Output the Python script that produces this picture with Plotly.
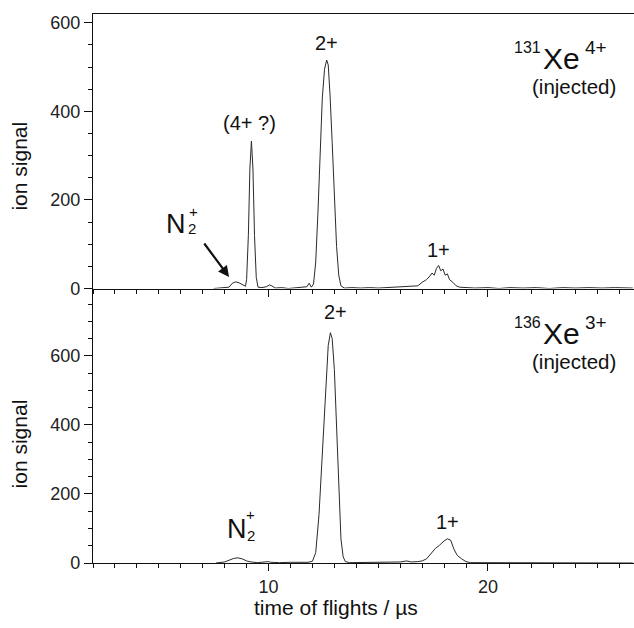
import plotly.graph_objects as go

# Time-of-flight spectra (time in microseconds, ion signal in counts)
top_tof = [7.5, 8.0, 8.2, 8.35, 8.5, 8.65, 8.8, 8.95, 9.0, 9.08, 9.15, 9.22, 9.29, 9.36,
           9.44, 9.52, 9.7, 9.9, 10.05, 10.15, 10.3, 10.6, 10.9, 11.2, 11.5, 11.75, 11.85,
           11.95, 12.05, 12.15, 12.25, 12.35, 12.45, 12.55, 12.65, 12.72, 12.8, 12.9, 13.0,
           13.1, 13.2, 13.3, 13.45, 13.8, 14.2, 14.6, 15.0, 15.4, 15.8, 16.2, 16.5, 16.8,
           17.0, 17.2, 17.35, 17.45, 17.55, 17.65, 17.75, 17.85, 17.95, 18.05, 18.15, 18.25,
           18.4, 18.55, 18.7, 19.0, 19.4, 20.0, 20.5, 21.0, 21.6, 22.2, 22.8, 23.4, 24.0,
           24.6, 25.2, 25.8, 26.6]
top_signal = [0, 1, 3, 12, 15, 13, 8, 5, 20, 120, 270, 333, 270, 120,
              25, 3, 2, 4, 8, 6, 1, 2, 0, 2, 3, 4, 12,
              3, 10, 60, 170, 310, 430, 495, 516, 505, 440, 330, 200,
              95, 30, 6, 1, 2, 1, 2, 1, 2, 3, 3, 4, 6,
              14, 20, 28, 35, 30, 45, 52, 40, 44, 30, 33, 20,
              14, 6, 3, 2, 1, 2, 0, 2, 1, 2, 0, 2, 1,
              2, 1, 2, 1]

bottom_tof = [7.6, 8.0, 8.2, 8.4, 8.6, 8.8, 9.0, 9.2, 9.5, 9.9, 10.0, 10.1, 10.5, 11.0,
              11.5, 11.8, 12.0, 12.15, 12.3, 12.45, 12.6, 12.72, 12.82, 12.9, 13.0, 13.1,
              13.2, 13.3, 13.4, 13.5, 13.7, 14.5, 15.5, 16.0, 16.3, 16.5, 16.8, 17.0, 17.2,
              17.4, 17.6, 17.8, 18.0, 18.15, 18.3, 18.45, 18.6, 18.8, 19.0, 19.2, 20.0,
              22.0, 24.0, 26.6]
bottom_signal = [0, 3, 8, 13, 15, 12, 6, 3, 1, 2, 4, 2, 1, 2,
                 1, 2, 5, 30, 140, 330, 520, 630, 667, 650, 560, 390,
                 200, 70, 18, 4, 1, 1, 2, 3, 6, 3, 4, 6, 12,
                 28, 42, 52, 64, 70, 66, 40, 22, 12, 4, 1, 1,
                 1, 1, 0]

x_range = [2, 26.655]
top_y_range = [0, 620]
bottom_y_range = [0, 795]
y_tickvals = [0, 200, 400, 600]
x_tickvals = [10, 20]

FONT = "Liberation Sans, Arial, Helvetica, sans-serif"
INK = "#111111"

fig = go.Figure()
fig.add_trace(go.Scatter(x=top_tof, y=top_signal, mode="lines",
                         line=dict(color="#2a2a2a", width=1), xaxis="x", yaxis="y",
                         showlegend=False, hoverinfo="skip"))
fig.add_trace(go.Scatter(x=bottom_tof, y=bottom_signal, mode="lines",
                         line=dict(color="#2a2a2a", width=1), xaxis="x2", yaxis="y2",
                         showlegend=False, hoverinfo="skip"))

common_x = dict(range=x_range, showline=True, linecolor=INK, linewidth=1.4,
                ticks="outside", ticklen=7, tickwidth=1.2, tickcolor=INK,
                tickvals=x_tickvals, showgrid=False, zeroline=False,
                minor=dict(dtick=1, tick0=0, ticks="outside", ticklen=4,
                           tickwidth=1, tickcolor=INK, showgrid=False),
                tickfont=dict(family=FONT, size=18, color="#222"))
common_y = dict(showline=True, linecolor=INK, linewidth=1.4,
                ticks="outside", ticklen=8, tickwidth=1.2, tickcolor=INK,
                tickvals=y_tickvals, showgrid=False, zeroline=False,
                minor=dict(dtick=50, tick0=0, ticks="outside", ticklen=4,
                           tickwidth=1, tickcolor=INK, showgrid=False),
                tickfont=dict(family=FONT, size=18, color="#222"))

fig.update_layout(
    width=634, height=628,
    margin=dict(l=93, r=0, t=14, b=65),
    paper_bgcolor="white", plot_bgcolor="white",
    xaxis=dict(common_x, anchor="y", domain=[0, 1], showticklabels=False, mirror=True),
    yaxis=dict(common_y, anchor="x", domain=[0.5, 1], range=top_y_range),
    xaxis2=dict(common_x, anchor="y2", domain=[0, 1], showticklabels=True),
    yaxis2=dict(common_y, anchor="x2", domain=[0, 0.5], range=bottom_y_range),
)

ann = []


def label(text, x, y, size, xref="x", yref="y", xanchor="center", **kw):
    ann.append(dict(text=text, x=x, y=y, xref=xref, yref=yref, showarrow=False,
                    xanchor=xanchor, yanchor="middle",
                    font=dict(family=FONT, size=size, color=INK), **kw))


# Top panel labels
label("(4+ ?)", 9.15, 373, 20)
label("2+", 12.66, 554, 20)
label("1+", 17.76, 86, 20)
label("N", 5.80, 145, 27)
label("+", 6.56, 173, 15)
label("2", 6.49, 135, 15)
label("131", 22.51, 545, 16, xanchor="right")
label("Xe", 22.415, 519, 30, xanchor="left")
label("4+", 24.31, 544, 19, xanchor="left")
label("(injected)", 23.9, 457, 20.5)
ann.append(dict(x=8.20, y=26, ax=7.02, ay=105, xref="x", yref="y", axref="x", ayref="y",
                text="", showarrow=True, arrowhead=2, arrowsize=1, arrowwidth=2.2,
                arrowcolor=INK, standoff=0))

# Bottom panel labels
label("2+", 13.06, 727, 20, xref="x2", yref="y2")
label("1+", 18.15, 119, 20, xref="x2", yref="y2")
label("N", 8.54, 99, 27, xref="x2", yref="y2")
label("+", 9.18, 140, 15, xref="x2", yref="y2")
label("2", 9.20, 80, 15, xref="x2", yref="y2")
label("136", 22.51, 697, 16, xref="x2", yref="y2", xanchor="right")
label("Xe", 22.415, 664, 30, xref="x2", yref="y2", xanchor="left")
label("3+", 24.31, 697, 19, xref="x2", yref="y2", xanchor="left")
label("(injected)", 23.9, 585, 20.5, xref="x2", yref="y2")

# Axis titles
label("ion signal", -0.1356, (563.3 - 166) / 549.3, 21, xref="paper", yref="paper", textangle=-90)
label("ion signal", -0.1356, (563.3 - 444) / 549.3, 21, xref="paper", yref="paper", textangle=-90)
label("time of flights / µs", (336 - 93.3) / 540.7, (563.3 - 608) / 549.3, 21,
      xref="paper", yref="paper")

fig.update_layout(annotations=ann)
fig.write_html("out.html")
